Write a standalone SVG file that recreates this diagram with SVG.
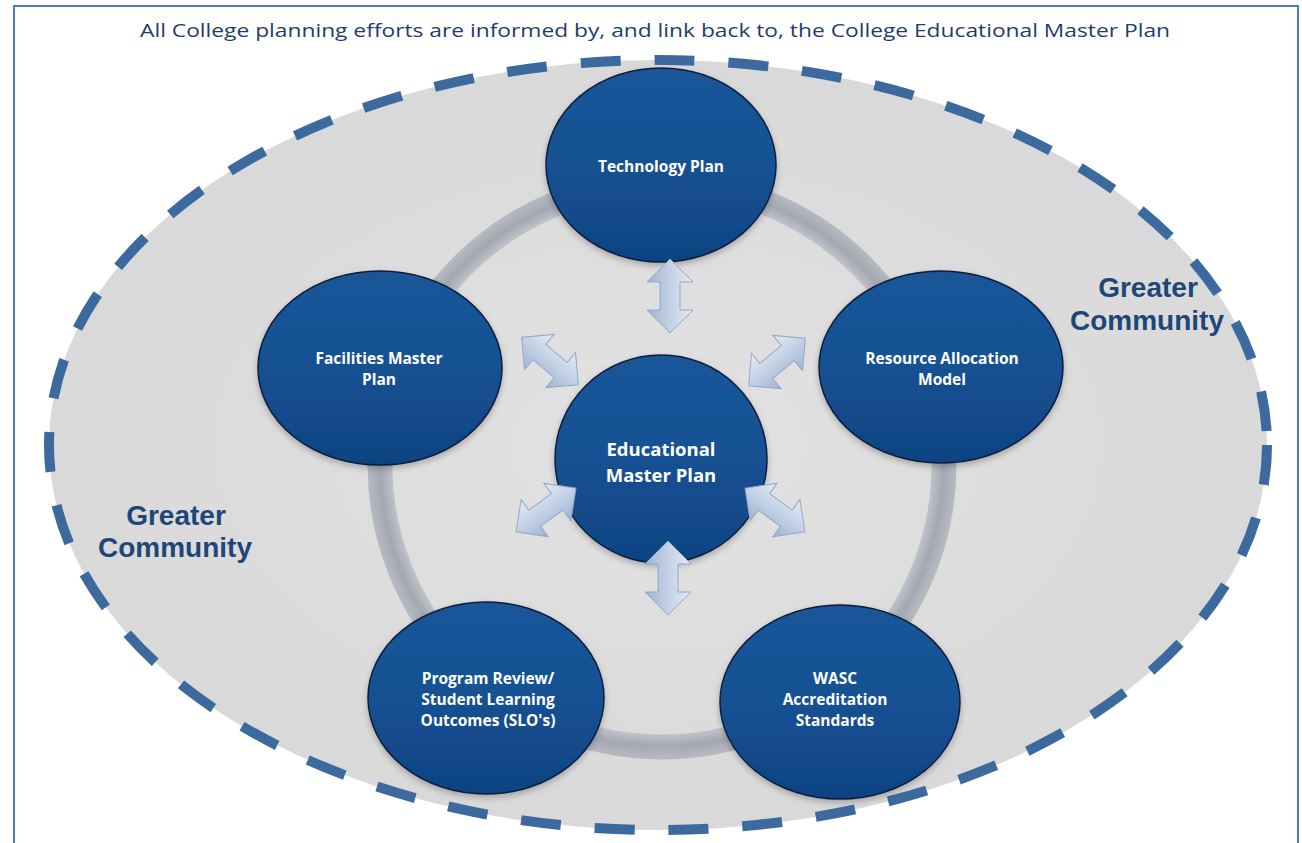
<svg xmlns="http://www.w3.org/2000/svg" xmlns:xlink="http://www.w3.org/1999/xlink" width="1302" height="843" viewBox="0 0 1302 843">
<style>
.node{fill:url(#nodeGrad);stroke:#0b1f3d;stroke-width:1.5;filter:url(#shadow)}
.nt{font-family:"Open Sans",Lato,"Liberation Sans",sans-serif;font-weight:bold;font-size:15.5px;fill:#ffffff;text-anchor:middle}
.gc{font-family:"Liberation Sans",Arial,sans-serif;font-weight:bold;font-size:28px;fill:#1e4778;text-anchor:middle}
.arrow{fill:url(#arrowGrad);stroke:#93a8c6;stroke-width:1}
</style>
<defs>
<linearGradient id="nodeGrad" x1="0" y1="0" x2="0" y2="1">
<stop offset="0" stop-color="#1a5699"/>
<stop offset="0.5" stop-color="#165193"/>
<stop offset="1" stop-color="#0f4382"/>
</linearGradient>
<radialGradient id="bgGrad" cx="0.5" cy="0.5" r="0.5">
<stop offset="0" stop-color="#e2e2e2"/>
<stop offset="1" stop-color="#d9d9d9"/>
</radialGradient>
<radialGradient id="ringGrad" gradientUnits="userSpaceOnUse" cx="662" cy="465" r="296">
<stop offset="0.90" stop-color="#c6c9cf"/>
<stop offset="0.95" stop-color="#a3a8b2"/>
<stop offset="1" stop-color="#b9bcc3"/>
</radialGradient>
<linearGradient id="arrowGrad" x1="0" y1="0" x2="0" y2="1">
<stop offset="0" stop-color="#e4ebf5"/>
<stop offset="0.5" stop-color="#c3d1e5"/>
<stop offset="1" stop-color="#9fb3cf"/>
</linearGradient>
<filter id="shadow" x="-10%" y="-10%" width="120%" height="125%">
<feDropShadow dx="0" dy="3" stdDeviation="3" flood-color="#000" flood-opacity="0.25"/>
</filter>
<path id="dbl" d="M-37,0 L-14,-23 L-14,-10 L14,-10 L14,-23 L37,0 L14,23 L14,10 L-14,10 L-14,23 Z"/>
</defs>
<rect x="0" y="0" width="1302" height="843" fill="#ffffff"/>
<rect x="14" y="6" width="1284" height="860" fill="none" stroke="#4a7cc4" stroke-width="2"/>
<text x="655" y="37" font-family="'Open Sans','Liberation Sans',sans-serif" font-size="19" fill="#1f3d6e" text-anchor="middle" textLength="1030" lengthAdjust="spacingAndGlyphs">All College planning efforts are informed by, and link back to, the College Educational Master Plan</text>
<g id="community">
<ellipse cx="658" cy="445" rx="609" ry="385" fill="url(#bgGrad)" stroke="#3d6a9e" stroke-width="10" stroke-dasharray="40 34"/>
<text class="gc" x="176" y="525">Greater</text>
<text class="gc" x="175" y="557">Community</text>
<text class="gc" x="1148" y="297">Greater</text>
<text class="gc" x="1147" y="330">Community</text>
</g>
<circle id="ring" cx="662" cy="465" r="282" fill="none" stroke="url(#ringGrad)" stroke-width="25"/>
<g id="tech"><ellipse class="node" cx="661" cy="165" rx="115" ry="97"/><text class="nt" x="661" y="172">Technology Plan</text></g>
<g id="facilities"><ellipse class="node" cx="380" cy="368" rx="122" ry="97"/><text class="nt" x="379" y="364">Facilities Master</text><text class="nt" x="379" y="385">Plan</text></g>
<g id="resource"><ellipse class="node" cx="941" cy="367" rx="122" ry="96"/><text class="nt" x="942" y="364">Resource Allocation</text><text class="nt" x="942" y="385">Model</text></g>
<g id="edu"><ellipse class="node" cx="661" cy="459" rx="106" ry="104"/><text class="nt" x="661" y="456" style="font-size:18.5px">Educational</text><text class="nt" x="661" y="482" style="font-size:18.5px">Master Plan</text></g>
<g id="program"><ellipse class="node" cx="486" cy="698" rx="118" ry="96"/><text class="nt" x="488" y="684">Program Review/</text><text class="nt" x="488" y="705">Student Learning</text><text class="nt" x="488" y="726">Outcomes (SLO's)</text></g>
<g id="wasc"><ellipse class="node" cx="840" cy="702" rx="120" ry="97"/><text class="nt" x="835" y="684">WASC</text><text class="nt" x="835" y="705">Accreditation</text><text class="nt" x="835" y="726">Standards</text></g>
<g id="connectors">
<use xlink:href="#dbl" class="arrow" transform="translate(670,296) rotate(90)"/>
<use xlink:href="#dbl" class="arrow" transform="translate(668,578) rotate(90)"/>
<use xlink:href="#dbl" class="arrow" transform="translate(550,361) rotate(40)"/>
<use xlink:href="#dbl" class="arrow" transform="translate(777,362) rotate(-40)"/>
<use xlink:href="#dbl" class="arrow" transform="translate(546,510) rotate(-36)"/>
<use xlink:href="#dbl" class="arrow" transform="translate(775,510) rotate(36)"/>
</g>
</svg>
